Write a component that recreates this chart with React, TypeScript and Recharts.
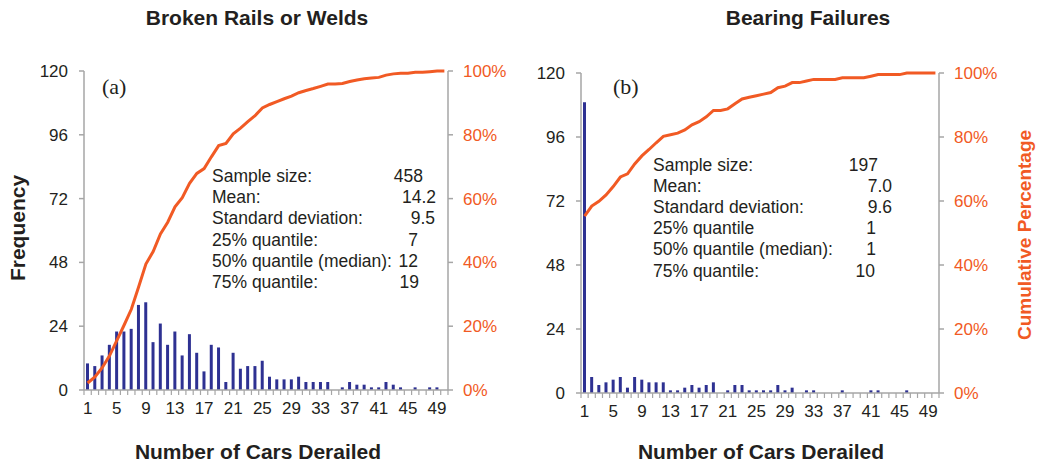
import { Bar, ComposedChart, Line, XAxis, YAxis } from "recharts";

const NAVY = "#2E3192";
const ORANGE = "#F15A24";
const AXIS = "#A6A6A6";
const TEXT = "#231F20";
const FONT = "'Liberation Sans', Arial, sans-serif";

// number of cars derailed (categories)
const cars = [
  1, 2, 3, 4, 5, 6, 7, 8, 9, 10, 11, 12, 13, 14, 15, 16, 17, 18, 19, 20, 21, 22, 23, 24, 25,
  26, 27, 28, 29, 30, 31, 32, 33, 34, 35, 36, 37, 38, 39, 40, 41, 42, 43, 44, 45, 46, 47, 48, 49, 50,
];

// (a) broken rails or welds
const railFreq = [
  10, 9, 13, 17, 22, 22, 23, 32, 33, 18, 25, 17, 22, 13, 21, 14, 7, 17, 16, 3, 14, 8, 9, 9, 11,
  5, 4, 4, 4, 5, 3, 3, 3, 3, 0, 1, 3, 2, 2, 1, 1, 3, 2, 1, 0, 1, 0, 1, 1, 0,
];
const railCumPct = [
  2.2, 4.1, 7.0, 10.7, 15.5, 20.3, 25.3, 32.3, 39.5, 43.4, 48.9, 52.6, 57.4, 60.3, 64.8, 67.9,
  69.4, 73.1, 76.6, 77.3, 80.3, 82.1, 84.1, 86.0, 88.4, 89.5, 90.4, 91.3, 92.1, 93.2, 93.9, 94.5,
  95.2, 95.9, 95.9, 96.1, 96.7, 97.2, 97.6, 97.8, 98.0, 98.7, 99.1, 99.3, 99.3, 99.6, 99.6, 99.8,
  100, 100,
];

// (b) bearing failures
const bearingFreq = [
  109, 6, 3, 4, 5, 6, 2, 6, 5, 4, 4, 4, 1, 1, 2, 3, 2, 3, 4, 0, 1, 3, 3, 1, 1,
  1, 1, 3, 1, 2, 0, 1, 1, 0, 0, 0, 1, 0, 0, 0, 1, 1, 0, 0, 0, 1, 0, 0, 0, 0,
];
const bearingCumPct = [
  55.3, 58.4, 59.9, 61.9, 64.5, 67.5, 68.5, 71.6, 74.1, 76.1, 78.2, 80.2, 80.7, 81.2, 82.2, 83.8,
  84.8, 86.3, 88.3, 88.3, 88.8, 90.4, 91.9, 92.4, 92.9, 93.4, 93.9, 95.4, 95.9, 97.0, 97.0, 97.5,
  98.0, 98.0, 98.0, 98.0, 98.5, 98.5, 98.5, 98.5, 99.0, 99.5, 99.5, 99.5, 99.5, 100, 100, 100,
  100, 100,
];

const freqTicks = [0, 24, 48, 72, 96, 120];
const pctTicks = [0, 20, 40, 60, 80, 100];

const railStats = [
  ["Sample size:", "458"],
  ["Mean:", "14.2"],
  ["Standard deviation:", "9.5"],
  ["25% quantile:", "7"],
  ["50% quantile (median):", "12"],
  ["75% quantile:", "19"],
];
const railStatX = [423, 436, 435, 418, 418, 419];

const bearingStats = [
  ["Sample size:", "197"],
  ["Mean:", "7.0"],
  ["Standard deviation:", "9.6"],
  ["25% quantile", "1"],
  ["50% quantile (median):", "1"],
  ["75% quantile:", "10"],
];
const bearingStatX = [878, 892, 892, 876, 876, 875];

const CarTick = (props: any) => {
  const { x, y, payload, index, band } = props;
  const left = x - band / 2;
  const show = (payload.value - 1) % 4 === 0;
  return (
    <g>
      <line x1={left} y1={y} x2={left} y2={y + 5} stroke={AXIS} strokeWidth={1.2} />
      {index === cars.length - 1 && (
        <line x1={x + band / 2} y1={y} x2={x + band / 2} y2={y + 5} stroke={AXIS} strokeWidth={1.2} />
      )}
      {show && (
        <text x={x} y={y + 24} textAnchor="middle" fontSize={17} fill={TEXT} fontFamily={FONT}>
          {payload.value}
        </text>
      )}
    </g>
  );
};

interface PanelProps {
  freq: number[];
  cum: number[];
  width: number;
  margin: { top: number; right: number; bottom: number; left: number };
}

const Panel = ({ freq, cum, width, margin }: PanelProps) => {
  const data = cars.map((c, i) => ({ car: c, freq: freq[i], cum: cum[i] }));
  const band = (width - margin.left - margin.right - 100) / cars.length;
  return (
    <ComposedChart
      width={width}
      height={464}
      data={data}
      margin={margin}
      barCategoryGap="58%"
    >
      <XAxis
        dataKey="car"
        interval={0}
        height={30}
        tickSize={0}
        tickMargin={0}
        stroke={AXIS}
        strokeWidth={1.5}
        tick={(p: any) => <CarTick {...p} band={band} />}
      />
      <YAxis
        yAxisId="left"
        width={50}
        domain={[0, 120]}
        ticks={freqTicks}
        interval={0}
        stroke={AXIS}
        strokeWidth={1.5}
        tickSize={5}
        tickMargin={11}
        tick={{ fill: TEXT, fontSize: 17, fontFamily: FONT }}
      />
      <YAxis
        yAxisId="right"
        orientation="right"
        width={50}
        domain={[0, 100]}
        ticks={pctTicks}
        interval={0}
        stroke={AXIS}
        strokeWidth={1.5}
        tickSize={5}
        tickMargin={10}
        tickFormatter={(v: number) => `${v}%`}
        tick={{ fill: ORANGE, fontSize: 17, fontFamily: FONT, textAnchor: "start" }}
      />
      <Bar yAxisId="left" dataKey="freq" fill={NAVY} barSize={3} isAnimationActive={false} />
      <Line
        yAxisId="right"
        dataKey="cum"
        type="linear"
        stroke={ORANGE}
        strokeWidth={3}
        dot={false}
        activeDot={false}
        isAnimationActive={false}
      />
    </ComposedChart>
  );
};

const App = () => {
  return (
    <div
      style={{
        position: "absolute",
        left: 0,
        top: 0,
        width: 1038,
        height: 464,
        background: "#fff",
        fontFamily: FONT,
      }}
    >
      <div style={{ position: "absolute", left: 0, top: 0 }}>
        <Panel
          freq={railFreq}
          cum={railCumPct}
          width={520}
          margin={{ top: 71, right: 22, bottom: 44, left: 34 }}
        />
      </div>
      <div style={{ position: "absolute", left: 520, top: 0 }}>
        <Panel
          freq={bearingFreq}
          cum={bearingCumPct}
          width={518}
          margin={{ top: 73, right: 49, bottom: 41, left: 11 }}
        />
      </div>
      <svg
        width={1038}
        height={464}
        style={{ position: "absolute", left: 0, top: 0, pointerEvents: "none" }}
        fontFamily={FONT}
      >
        <text x={257} y={25} textAnchor="middle" fontSize={21} fontWeight="bold" fill={TEXT}>
          Broken Rails or Welds
        </text>
        <text x={808} y={25} textAnchor="middle" fontSize={21} fontWeight="bold" fill={TEXT}>
          Bearing Failures
        </text>
        <text x={102} y={94} fontSize={22} fill={TEXT} fontFamily="'Liberation Serif', 'Times New Roman', serif">
          (a)
        </text>
        <text x={613} y={94} fontSize={22} fill={TEXT} fontFamily="'Liberation Serif', 'Times New Roman', serif">
          (b)
        </text>
        {railStats.map(([label, value], i) => (
          <g key={label}>
            <text x={212} y={181.7 + 21.3 * i} fontSize={17.5} fill={TEXT}>
              {label}
            </text>
            <text x={railStatX[i]} y={181.7 + 21.3 * i} fontSize={17.5} fill={TEXT} textAnchor="end">
              {value}
            </text>
          </g>
        ))}
        {bearingStats.map(([label, value], i) => (
          <g key={label}>
            <text x={653} y={171 + 21.1 * i} fontSize={17.5} fill={TEXT}>
              {label}
            </text>
            <text x={bearingStatX[i]} y={171 + 21.1 * i} fontSize={17.5} fill={TEXT} textAnchor="end">
              {value}
            </text>
          </g>
        ))}
        <text
          x={0}
          y={0}
          transform="translate(25 228) rotate(-90)"
          textAnchor="middle"
          fontSize={21}
          fontWeight="bold"
          fill={TEXT}
        >
          Frequency
        </text>
        <text
          x={0}
          y={0}
          transform="translate(1031 235) rotate(-90)"
          textAnchor="middle"
          fontSize={19}
          fontWeight="bold"
          fill={ORANGE}
        >
          Cumulative Percentage
        </text>
        <text x={258} y={459} textAnchor="middle" fontSize={21} fontWeight="bold" fill={TEXT}>
          Number of Cars Derailed
        </text>
        <text x={761} y={459} textAnchor="middle" fontSize={21} fontWeight="bold" fill={TEXT}>
          Number of Cars Derailed
        </text>
      </svg>
    </div>
  );
};

export default App;
